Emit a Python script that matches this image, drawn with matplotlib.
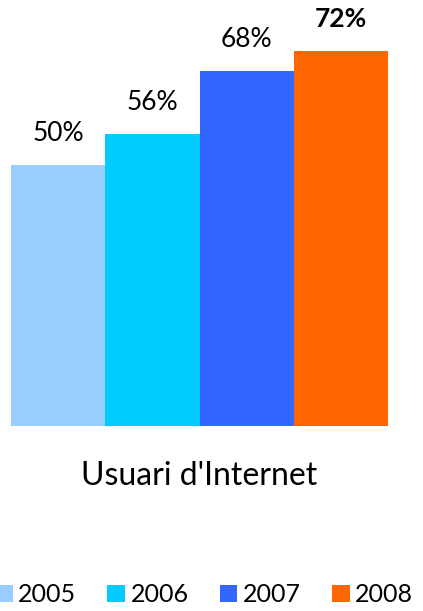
import matplotlib.pyplot as plt
from matplotlib.patches import Patch

# data
years = ['2005', '2006', '2007', '2008']
values = [50, 56, 68, 72]
labels = ['50%', '56%', '68%', '72%']
colors = ['#99CCFF', '#00CCFF', '#3366FF', '#FF6600']
title = "Usuari d'Internet"

plt.rcParams['font.family'] = ['Lato', 'DejaVu Sans']

fig = plt.figure(figsize=(4.23, 6.11), dpi=100)
ax = fig.add_axes([11 / 423, 1 - 426 / 611, (388 - 11) / 423, 426 / 611])

x = range(len(years))
bars = ax.bar(x, values, width=1.0, color=colors, linewidth=0)
ax.set_xlim(-0.5, len(years) - 0.5)
ax.set_ylim(0, 81.7)
ax.axis('off')

for i, (b, lab) in enumerate(zip(bars, labels)):
    bold = i == len(labels) - 1
    ax.annotate(lab, (b.get_x() + b.get_width() / 2, b.get_height()),
                xytext=(0, 14), textcoords='offset points',
                ha='center', va='bottom', fontsize=19,
                fontweight='bold' if bold else 'normal', color='black')

fig.text((11 + 388) / 2 / 423, 1 - 476 / 611, title, ha='center', va='center',
         fontsize=23, color='black')

handles = [Patch(facecolor=c, edgecolor='none') for c in colors]
fig.legend(handles, years, loc='upper left', bbox_to_anchor=(-5 / 423, 1 - 583 / 611),
           ncol=4, frameon=False, fontsize=18, handlelength=0.7, handleheight=0.7,
           handletextpad=0.22, columnspacing=1.25, borderpad=0, borderaxespad=0)

fig.savefig('out.png', dpi=100)
